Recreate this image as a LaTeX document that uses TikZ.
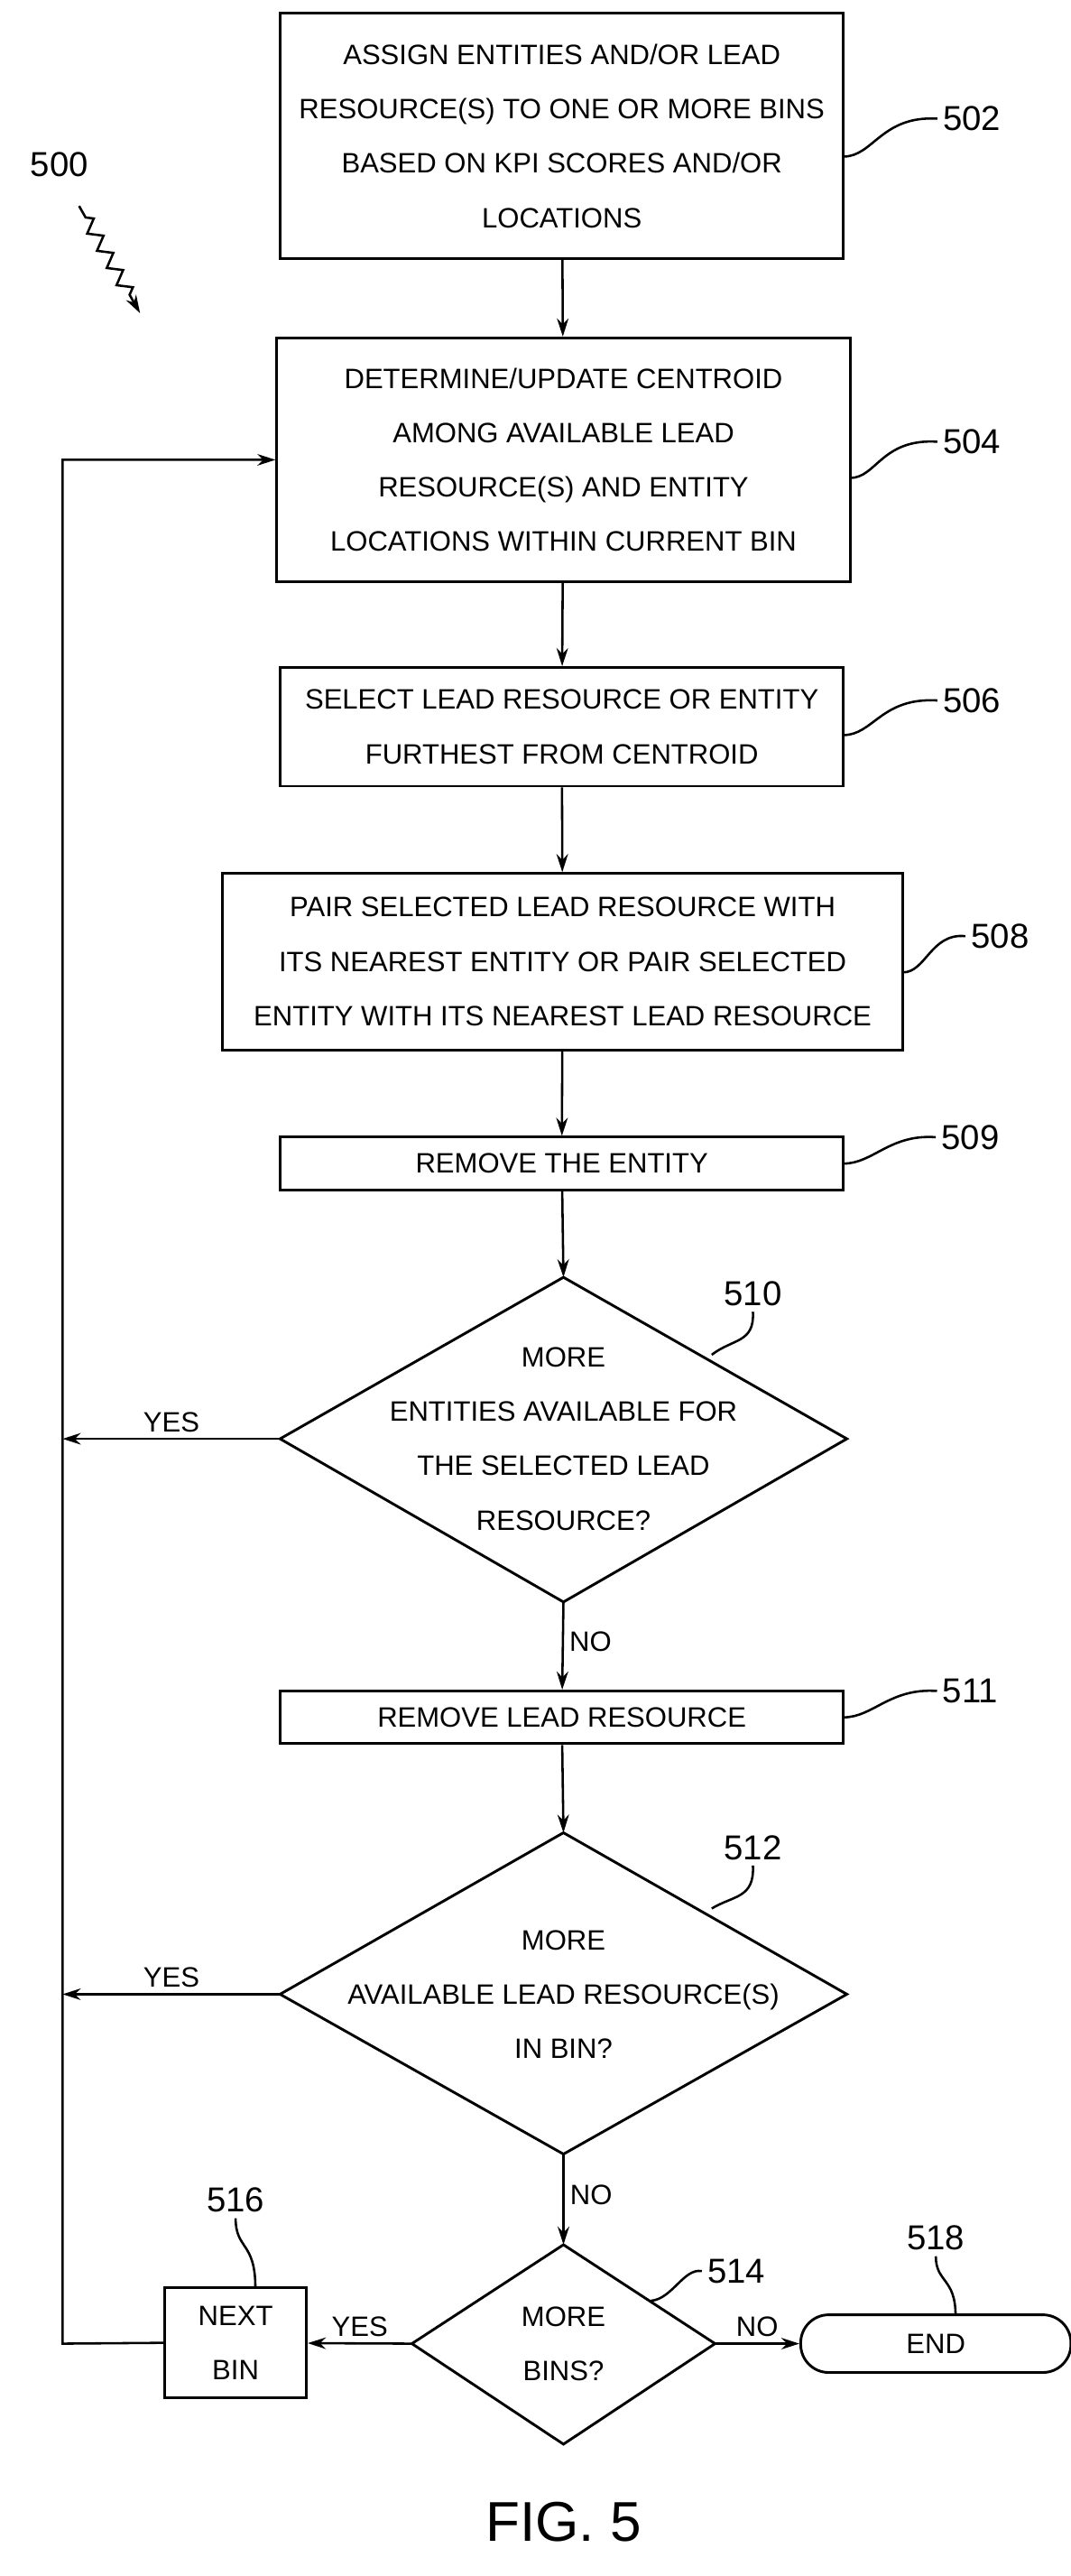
\documentclass[tikz,border=0pt]{standalone}
\usepackage{fontspec}
\setmainfont{Liberation Sans}
\usetikzlibrary{shapes.geometric,arrows.meta,decorations.pathmorphing}
\begin{document}
\begin{tikzpicture}[x=1pt,y=-1pt,
  txt/.style={font=\fontsize{17}{33}\selectfont, align=center},
  box/.style={draw, line width=1.6pt, txt, inner sep=0pt},
  dia/.style={draw, line width=1.6pt, diamond, txt, inner sep=0pt},
  ln/.style={line width=1.4pt},
  ar/.style={ln, -{Stealth[length=11pt,width=7pt]}},
  lab/.style={font=\fontsize{21}{24}\selectfont}]
\useasboundingbox (0,0) rectangle (650,1563);
\node[box, minimum width=342pt, minimum height=149pt] (b502) at (341,82.5) {ASSIGN ENTITIES AND/OR LEAD\\RESOURCE(S) TO ONE OR MORE BINS\\BASED ON KPI SCORES AND/OR\\LOCATIONS};
\node[box, minimum width=348pt, minimum height=148pt] (b504) at (342,279) {DETERMINE/UPDATE CENTROID\\AMONG AVAILABLE LEAD\\RESOURCE(S) AND ENTITY\\LOCATIONS WITHIN CURRENT BIN};
\node[box, minimum width=342pt, minimum height=72pt] (b506) at (341,441) {SELECT LEAD RESOURCE OR ENTITY\\FURTHEST FROM CENTROID};
\node[box, minimum width=413pt, minimum height=107pt] (b508) at (341.5,583.5) {PAIR SELECTED LEAD RESOURCE WITH\\ITS NEAREST ENTITY OR PAIR SELECTED\\ENTITY WITH ITS NEAREST LEAD RESOURCE};
\node[box, minimum width=342pt, minimum height=32pt] (b509) at (341,706) {REMOVE THE ENTITY};
\draw[line width=1.6pt] (342,775) -- (514,873) -- (342,972) -- (170,873) -- cycle;
\node[txt] (d510) at (342,873) {MORE\\ENTITIES AVAILABLE FOR\\THE SELECTED LEAD\\RESOURCE?};
\coordinate (d510t) at (342,775); \coordinate (d510b) at (342,972); \coordinate (d510l) at (170,873);
\node[box, minimum width=342pt, minimum height=32pt] (b511) at (341,1042) {REMOVE LEAD RESOURCE};
\draw[line width=1.6pt] (342,1112) -- (514,1210) -- (342,1307) -- (170,1210) -- cycle;
\node[txt] (d512) at (342,1210) {MORE\\AVAILABLE LEAD RESOURCE(S)\\IN BIN?};
\coordinate (d512t) at (342,1112); \coordinate (d512b) at (342,1307); \coordinate (d512l) at (170,1210);
\draw[line width=1.6pt] (342,1362) -- (434,1422) -- (342,1483) -- (250,1422) -- cycle;
\node[txt] (d514) at (342,1422) {MORE\\BINS?};
\coordinate (d514t) at (342,1362); \coordinate (d514l) at (250,1422); \coordinate (d514r) at (434,1422);
\node[box, minimum width=86pt, minimum height=67pt] (b516) at (143,1421.5) {NEXT\\BIN};
\node[draw, line width=1.6pt, rounded corners=17pt, minimum width=164pt, minimum height=35pt, txt] (end) at (568,1422) {END};
% connectors
\draw[ar] (b502) -- (b504);
\draw[ar] (b504) -- (b506);
\draw[ar] (b506) -- (b508);
\draw[ar] (b508) -- (b509);
\draw[ar] (b509) -- (d510t);
\draw[ar] (d510b) -- node[right, txt, pos=0.45]{NO} (b511);
\draw[ar] (b511) -- (d512t);
\draw[ar] (d512b) -- node[right, txt, pos=0.45]{NO} (d514t);
\coordinate (L1) at (38,873); \coordinate (L2) at (38,1210);
\coordinate (Ltop) at (38,279); \coordinate (Lbot) at (38,1422);
\draw[ar] (d510l) -- node[above, txt, pos=0.5]{YES} (L1);
\draw[ar] (d512l) -- node[above, txt, pos=0.5]{YES} (L2);
\draw[ar] (d514l) -- node[above, txt]{YES} (b516);
\draw[ar] (d514r) -- node[above, txt]{NO} (end);
\draw[ar] (b516.west) -- (Lbot) -- (Ltop) -- (b504.west);
% reference labels
\node[lab] (n502) at (590,72) {502};
\draw[ln] (n502.west) .. controls (535,70) and (530,95) .. (512,95);
\node[lab] (n504) at (590,268) {504};
\draw[ln] (n504.west) .. controls (535,266) and (532,290) .. (516,290);
\node[lab] (n506) at (590,425) {506};
\draw[ln] (n506.west) .. controls (535,423) and (530,446) .. (512,446);
\node[lab] (n508) at (607,568) {508};
\draw[ln] (n508.west) .. controls (565,566) and (562,590) .. (548,590);
\node[lab] (n509) at (589,690) {509};
\draw[ln] (n509.west) .. controls (540,688) and (530,706) .. (512,706);
\node[lab] (n510) at (457,785) {510};
\draw[ln] (n510.south) .. controls (458,815) and (445,812) .. (432,822);
\node[lab] (n511) at (589,1026) {511};
\draw[ln] (n511.west) .. controls (540,1024) and (530,1042) .. (512,1042);
\node[lab] (n512) at (457,1121) {512};
\draw[ln] (n512.south) .. controls (458,1152) and (445,1150) .. (432,1158);
\node[lab] (n514) at (447,1378) {514};
\draw[ln] (n514.west) .. controls (415,1376) and (408,1395) .. (395,1396);
\node[lab] (n516) at (143,1335) {516};
\draw[ln] (n516.south) .. controls (143,1365) and (155,1360) .. (155,1388);
\node[lab] (n518) at (568,1358) {518};
\draw[ln] (n518.south) .. controls (568,1385) and (580,1382) .. (580,1405);
\node[lab] (n500) at (36,100) {500};
\draw[ln, -{Stealth[length=11pt,width=7pt]}, decorate, decoration={zigzag, segment length=12pt, amplitude=4pt, pre length=8pt, post length=12pt}] (48,125) -- (85,190);
\node[font=\fontsize{34}{40}\selectfont] (fig) at (342,1530) {FIG. 5};
\end{tikzpicture}
\end{document}
